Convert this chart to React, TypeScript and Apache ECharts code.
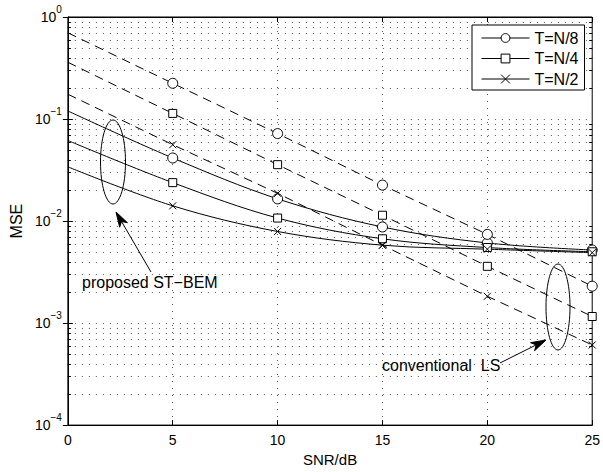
import React, { useEffect, useRef } from "react";
import * as echarts from "echarts";

const snr = [0, 5, 10, 15, 20, 25];
const legendNames = ["T=N/8", "T=N/4", "T=N/2"];
// proposed ST-BEM (solid)
const bemN8 = [0.12, 0.0415, 0.0165, 0.00875, 0.0061, 0.0052];
const bemN4 = [0.0616, 0.0238, 0.0107, 0.0067, 0.0055, 0.005];
const bemN2 = [0.034, 0.0141, 0.0079, 0.0058, 0.0053, 0.0049];
// conventional LS (dashed)
const lsN8 = [0.7, 0.224, 0.072, 0.0225, 0.0074, 0.0023];
const lsN4 = [0.36, 0.1135, 0.0357, 0.0114, 0.0036, 0.00116];
const lsN2 = [0.175, 0.056, 0.0187, 0.0058, 0.00183, 0.00061];
const xTicks = [0, 5, 10, 15, 20, 25];
const yDecades = [-4, -3, -2, -1, 0];
const minorMantissas = [2, 3, 4, 5, 6, 7, 8, 9];

const FONT = "'Liberation Sans', Arial, Helvetica, sans-serif";
const CROSS = "path://M0,0L10,10M0,10L10,0";
const symbols = ["circle", "rect", CROSS];
const symbolSizes = [10, 8, 7];

function toData(vals: number[]) {
  return snr.map((x, i) =>
    x === 0 ? { value: [x, vals[i]], symbol: "none" } : { value: [x, vals[i]] }
  );
}

export default function App() {
  const ref = useRef<HTMLDivElement>(null);
  useEffect(() => {
    if (!ref.current) return;
    const chart = echarts.init(ref.current, null, { renderer: "svg" });
    const solids = [bemN8, bemN4, bemN2];
    const dashes = [lsN8, lsN4, lsN2];
    const minorVals: number[][] = [];
    yDecades.slice(0, -1).forEach((e) =>
      minorMantissas.forEach((m) => minorVals.push([0, m * Math.pow(10, e)]))
    );
    const dotted = { color: "#555", width: 1, type: [1, 6] as any };
    const series: any[] = [];
    series.push({
      type: "custom",
      name: "minor",
      silent: true,
      z: 1,
      clip: false,
      encode: { x: 0, y: 1 },
      data: minorVals,
      renderItem: (params: any, api: any) => {
        const v = api.value(1);
        const p0 = api.coord([xTicks[0], v]);
        const p1 = api.coord([xTicks[xTicks.length - 1], v]);
        const y = Math.round(p0[1]) + 0.5;
        return {
          type: "group",
          children: [
            {
              type: "line",
              shape: { x1: p0[0], y1: y, x2: p1[0], y2: y },
              style: { stroke: "#555", lineWidth: 1, lineDash: [1, 6] },
            },
            {
              type: "line",
              shape: { x1: p0[0], y1: y, x2: p0[0] + 3, y2: y },
              style: { stroke: "#000", lineWidth: 1 },
            },
            {
              type: "line",
              shape: { x1: p1[0], y1: y, x2: p1[0] - 3, y2: y },
              style: { stroke: "#000", lineWidth: 1 },
            },
          ],
        };
      },
    });
    solids.forEach((vals, i) => {
      series.push({
        type: "line",
        name: legendNames[i],
        data: toData(vals),
        smooth: 0.35,
        symbol: symbols[i],
        symbolSize: symbolSizes[i],
        showAllSymbol: true,
        lineStyle: { color: "#000", width: 1, type: "solid" },
        itemStyle: { color: "#fff", borderColor: "#000", borderWidth: 1 },
        z: 3,
      });
    });
    dashes.forEach((vals, i) => {
      series.push({
        type: "line",
        name: "LS " + legendNames[i],
        data: toData(vals),
        symbol: symbols[i],
        symbolSize: symbolSizes[i],
        showAllSymbol: true,
        lineStyle: { color: "#000", width: 1, type: [9, 6] },
        itemStyle: { color: "#fff", borderColor: "#000", borderWidth: 1 },
        z: 3,
      });
    });

    const arrow = (tail: number[], tip: number[]) => {
      const dx = tip[0] - tail[0];
      const dy = tip[1] - tail[1];
      const len = Math.hypot(dx, dy);
      const ux = dx / len, uy = dy / len;
      const bx = tip[0] - 15 * ux, by = tip[1] - 15 * uy;
      const nx = -uy * 4.5, ny = ux * 4.5;
      const mx = tip[0] - 11 * ux, my = tip[1] - 11 * uy;
      return [
        { type: "line", shape: { x1: tail[0], y1: tail[1], x2: mx, y2: my }, style: { stroke: "#000", lineWidth: 1 } },
        {
          type: "polygon",
          shape: { points: [tip, [bx + nx, by + ny], [mx, my], [bx - nx, by - ny]] },
          style: { fill: "#000", stroke: "#000", lineWidth: 1 },
        },
      ];
    };

    chart.setOption({
      animation: false,
      backgroundColor: "#fff",
      textStyle: { fontFamily: FONT, color: "#000" },
      grid: { left: 66, right: 10, top: 17, bottom: 43, show: true, borderColor: "#000", borderWidth: 1 },
      legend: {
        data: legendNames,
        orient: "vertical",
        left: 472,
        top: 25,
        itemWidth: 48,
        itemHeight: 11,
        itemGap: 4.5,
        padding: [5, 6, 3, 9],
        backgroundColor: "#fff",
        borderColor: "#000",
        borderWidth: 1,
        borderRadius: 0,
        lineStyle: { width: 1, color: "#000", type: "solid" },
        itemStyle: { borderWidth: 1, borderColor: "#000", color: "#fff" },
        textStyle: { fontSize: 16, lineHeight: 16, fontFamily: FONT, color: "#000" },
        selectedMode: false,
      },
      xAxis: [
        {
          type: "value",
          min: 0,
          max: 25,
          interval: 5,
          name: "SNR/dB",
          nameLocation: "middle",
          nameGap: 26,
          nameTextStyle: { fontSize: 15, color: "#000", fontFamily: FONT },
          axisLine: { show: true, lineStyle: { color: "#000" } },
          axisTick: { show: true, inside: true, length: 5, lineStyle: { color: "#000" } },
          axisLabel: { fontSize: 14, color: "#000", margin: 8, fontFamily: FONT },
          splitLine: { show: true, lineStyle: dotted },
        },
        {
          type: "value",
          position: "top",
          min: 0,
          max: 25,
          interval: 5,
          axisLine: { show: true, lineStyle: { color: "#000" } },
          axisTick: { show: true, inside: true, length: 5, lineStyle: { color: "#000" } },
          axisLabel: { show: false },
          splitLine: { show: false },
        },
      ],
      yAxis: [
        {
          type: "log",
          logBase: 10,
          min: 1e-4,
          max: 1,
          name: "MSE",
          nameLocation: "middle",
          nameGap: 41,
          nameTextStyle: { fontSize: 16, color: "#000", fontFamily: FONT },
          axisLine: { show: true, lineStyle: { color: "#000" } },
          axisTick: { show: true, inside: true, length: 5, lineStyle: { color: "#000" } },
          axisLabel: {
            margin: 6,
            formatter: (v: number) => {
              const e = Math.round(Math.log10(v));
              const s = e < 0 ? "\u2212" + Math.abs(e) : String(e);
              return "{b|10}{s|" + s + "}";
            },
            rich: {
              b: { fontSize: 14, lineHeight: 14, verticalAlign: "bottom", fontFamily: FONT, color: "#000" },
              s: { fontSize: 10, lineHeight: 10, padding: [0, 0, 10, 0], verticalAlign: "bottom", fontFamily: FONT, color: "#000" },
            },
          },
          splitLine: { show: true, lineStyle: dotted },
        },
        {
          type: "log",
          logBase: 10,
          min: 1e-4,
          max: 1,
          position: "right",
          axisLine: { show: true, lineStyle: { color: "#000" } },
          axisTick: { show: true, inside: true, length: 5, lineStyle: { color: "#000" } },
          axisLabel: { show: false },
          splitLine: { show: false },
        },
      ],
      series,
      graphic: [
        { type: "ellipse", shape: { cx: 113, cy: 162, rx: 12.5, ry: 42 }, style: { fill: "none", stroke: "#000", lineWidth: 1 }, z: 10 },
        { type: "ellipse", shape: { cx: 558, cy: 307, rx: 12, ry: 43 }, style: { fill: "none", stroke: "#000", lineWidth: 1 }, z: 10 },
        ...arrow([151, 272], [116, 212]).map((g) => ({ ...g, z: 10 })),
        ...arrow([500, 363], [546, 340]).map((g) => ({ ...g, z: 10 })),
        {
          type: "text",
          x: 82,
          y: 282,
          z: 10,
          style: { text: "proposed ST\u2212BEM", fontSize: 16, fontFamily: FONT, fill: "#000", verticalAlign: "middle" },
        },
        {
          type: "text",
          x: 382,
          y: 365,
          z: 10,
          style: { text: "conventional  LS", fontSize: 16, fontFamily: FONT, fill: "#000", verticalAlign: "middle" },
        },
      ],
    });
    return () => chart.dispose();
  }, []);
  return (
    <div
      ref={ref}
      style={{ position: "fixed", left: 0, top: 0, width: 603, height: 472, background: "#fff" }}
    />
  );
}
